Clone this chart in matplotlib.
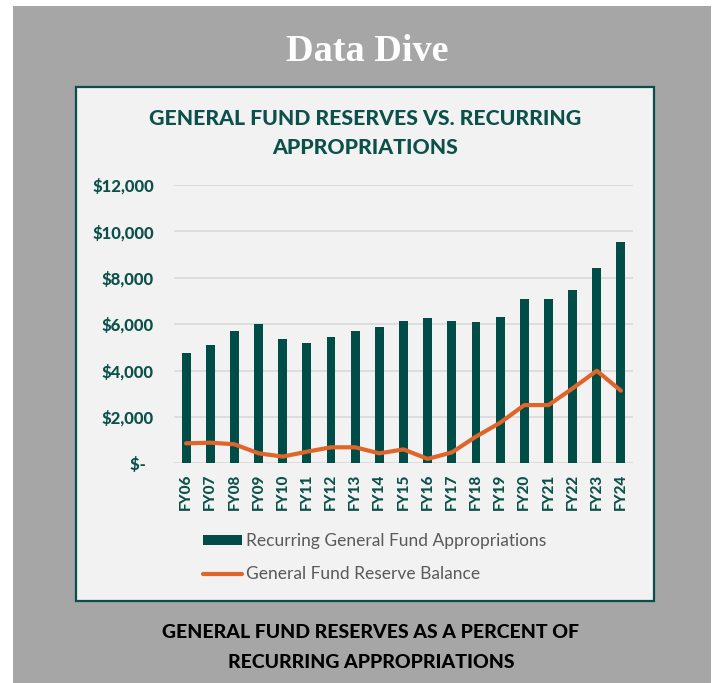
import matplotlib
matplotlib.use("Agg")
import matplotlib.pyplot as plt
from matplotlib.patches import Rectangle

# ---- data ----
categories = ["FY06", "FY07", "FY08", "FY09", "FY10", "FY11", "FY12", "FY13", "FY14", "FY15",
              "FY16", "FY17", "FY18", "FY19", "FY20", "FY21", "FY22", "FY23", "FY24"]
appropriations = [4740, 5110, 5690, 6000, 5370, 5190, 5430, 5690, 5880, 6130,
                  6250, 6130, 6080, 6320, 7080, 7080, 7460, 8410, 9550]
reserve_balance = [860, 890, 820, 430, 290, 500, 690, 690, 430, 600,
                   190, 470, 1150, 1750, 2510, 2510, 3230, 3990, 3130]
y_ticks = [0, 2000, 4000, 6000, 8000, 10000, 12000]
y_tick_labels = ["$-  ", "$2,000", "$4,000", "$6,000", "$8,000", "$10,000", "$12,000"]
series_names = ["Recurring General Fund Appropriations", "General Fund Reserve Balance"]

W, H = 717, 683
GREEN = "#004D47"
TITLE_GREEN = "#0B514A"
ORANGE = "#E0652B"
GRAY_BG = "#A6A6A6"
PANEL = "#F2F2F2"

def fx(x):
    return x / W

def fy(y):
    return 1 - y / H

fig = plt.figure(figsize=(W / 100, H / 100), dpi=100)
fig.patch.set_facecolor("white")

# gray background
fig.add_artist(Rectangle((fx(13), fy(683)), fx(711) - fx(13), fy(6) - fy(683),
                         transform=fig.transFigure, facecolor=GRAY_BG, edgecolor="none", zorder=0))
# chart panel
fig.add_artist(Rectangle((fx(76), fy(601)), fx(654) - fx(76), fy(87) - fy(601),
                         transform=fig.transFigure, facecolor=PANEL, edgecolor="#0B4F4A",
                         linewidth=1.6, zorder=1))

# titles
fig.text(fx(367), fy(61), "Data Dive", ha="center", va="baseline", color="white",
         family="Liberation Serif", weight="bold", fontsize=27.5, zorder=3)
fig.text(fx(365), fy(125), "GENERAL FUND RESERVES VS. RECURRING", ha="center", va="baseline",
         color=TITLE_GREEN, family="Lato", weight="black", fontsize=15.3, zorder=3)
fig.text(fx(365), fy(154), "APPROPRIATIONS", ha="center", va="baseline",
         color=TITLE_GREEN, family="Lato", weight="black", fontsize=15.3, zorder=3)
fig.text(fx(371), fy(638), "GENERAL FUND RESERVES AS A PERCENT OF", ha="center", va="baseline",
         color="black", family="Lato", weight="black", fontsize=14, zorder=3)
fig.text(fx(371), fy(668), "RECURRING APPROPRIATIONS", ha="center", va="baseline",
         color="black", family="Lato", weight="black", fontsize=14, zorder=3)

# main axes
ax = fig.add_axes([fx(174), fy(463.3), fx(633) - fx(174), fy(185) - fy(463.3)])
ax.set_zorder(2)
ax.patch.set_alpha(0)
x = list(range(len(categories)))
bars = ax.bar(x, appropriations, width=0.37, color=GREEN, zorder=2, label=series_names[0])
line, = ax.plot(x, reserve_balance, color=ORANGE, linewidth=3, solid_joinstyle="round",
                solid_capstyle="round", zorder=3, label=series_names[1])

ax.set_xlim(-0.5, len(categories) - 0.5)
ax.set_ylim(0, 12000)
ax.set_yticks(y_ticks)
ax.set_yticklabels(y_tick_labels)
ax.set_xticks(x)
ax.set_xticklabels(categories, rotation=90)
for s in ax.spines.values():
    s.set_visible(False)
ax.grid(axis="y", color="#D9D9D9", linewidth=1.2, zorder=0)
ax.set_axisbelow(True)
ax.tick_params(axis="both", length=0)
ax.tick_params(axis="y", pad=14.4, labelsize=12, labelcolor=TITLE_GREEN)
ax.tick_params(axis="x", pad=7.5, labelsize=11, labelcolor=TITLE_GREEN)
for lab in ax.get_yticklabels() + ax.get_xticklabels():
    lab.set_family("Lato")
    lab.set_weight("black")

leg = fig.legend(handles=[bars, line], labels=series_names,
                 loc="upper left", bbox_to_anchor=(fx(203), fy(533)),
                 frameon=False, handlelength=2.25, handleheight=0.55,
                 handletextpad=0.2, labelspacing=1.0, borderpad=0, borderaxespad=0,
                 prop={"family": "Lato", "size": 12.5})
for t in leg.get_texts():
    t.set_color("#595959")
leg.set_zorder(4)

fig.savefig("out.png", dpi=100, facecolor=fig.get_facecolor())
